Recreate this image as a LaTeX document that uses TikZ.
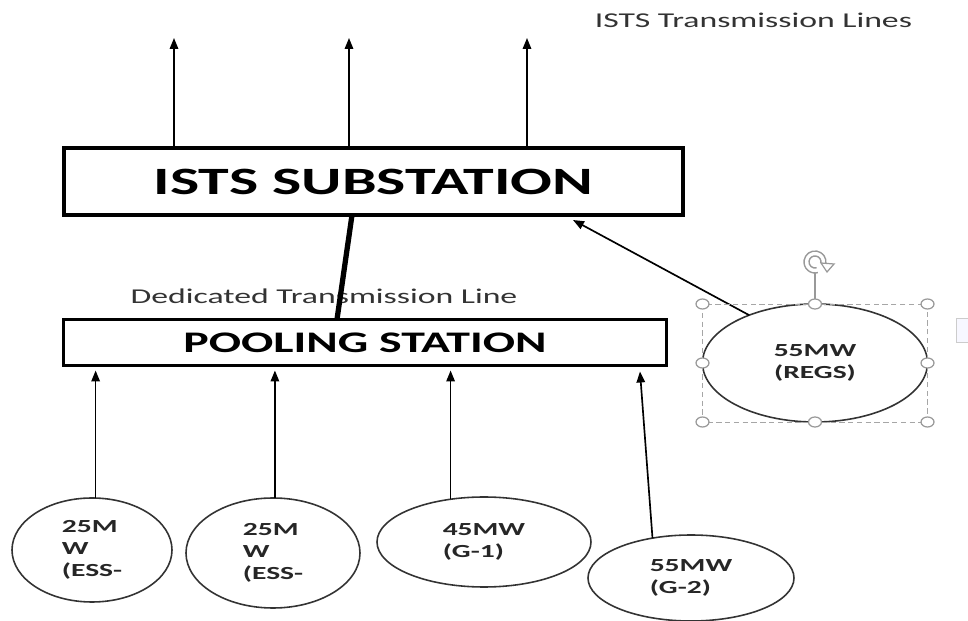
\documentclass[tikz,border=0pt]{standalone}
\usepackage{fontspec}
\setmainfont{Carlito}
\usetikzlibrary{positioning, arrows.meta, shapes.geometric}
\newcommand{\stretched}[1]{\scalebox{1.6}[1]{#1}}

\begin{document}
\begin{tikzpicture}[
  every node/.append style={inner sep=2pt, outer sep=0pt},
  stn/.style={draw, line width=2.4pt, minimum width=12.38cm, minimum height=1.34cm, font=\fontsize{22}{26}\selectfont\bfseries},
  pl/.style={draw, line width=1.9pt, minimum width=12.06cm, minimum height=0.92cm, font=\fontsize{17}{20}\selectfont\bfseries},
  gen/.style={draw=black!80, ellipse, line width=0.9pt, inner sep=0pt, font=\fontsize{10.5}{12.5}\selectfont\bfseries, text=black!85},
  lbl/.style={font=\fontsize{12}{14}\selectfont, text=black!80},
  arr/.style={-{Triangle[length=0.22cm, width=0.17cm]}, line width=0.95pt},
  trunk/.style={line width=3pt},
  sel/.style={draw=gray!70, densely dashed, line width=0.5pt},
  handle/.style={draw=gray!80, fill=white, line width=0.7pt},
]
\useasboundingbox (0,0) rectangle (19.36,-12.42);

%% --- stations and labels ---
\node[stn] (sub)  at (7.47,-3.63) {\stretched{ISTS SUBSTATION}};
\node[pl]  (pool) at (7.30,-6.85) {\stretched{POOLING STATION}};
\node[lbl] (isl)  at (15.07,-0.40) {\stretched{ISTS Transmission Lines}};
\node[lbl] (ded)  at (6.48,-5.92) {\stretched{Dedicated Transmission Line}};

%% --- outgoing ISTS lines ---
\foreach \x [count=\i] in {3.48, 6.98, 10.54}
  \coordinate (up\i) at (\x,-0.76);
\foreach \i in {1,2,3}
  \draw[arr] (up\i |- sub.north) -- (up\i);

%% --- dedicated line ---
\draw[trunk] ([xshift=-0.43cm]sub.south) -- ([xshift=-0.56cm]pool.north);

%% --- generating units ---
\node[gen, minimum width=3.2cm,  minimum height=2.08cm] (ess1) at (1.84,-11.00)
  {\stretched{\begin{tabular}{@{}l@{}}25M\\W\\(ESS-\end{tabular}}};
\node[gen, minimum width=3.48cm, minimum height=2.2cm]  (ess2) at (5.46,-11.06)
  {\stretched{\begin{tabular}{@{}l@{}}25M\\W\\(ESS-\end{tabular}}};
\node[gen, minimum width=4.28cm, minimum height=1.8cm]  (g1)   at (9.68,-10.84)
  {\stretched{\begin{tabular}{@{}l@{}}45MW\\(G-1)\end{tabular}}};
\node[gen, minimum width=4.12cm, minimum height=1.72cm] (g2)   at (13.82,-11.56)
  {\stretched{\begin{tabular}{@{}l@{}}55MW\\(G-2)\end{tabular}}};
\node[gen, minimum width=4.5cm,  minimum height=2.36cm] (regs) at (16.30,-7.26)
  {\stretched{\begin{tabular}{@{}c@{}}55MW\\(REGS)\end{tabular}}};

\draw[arr, shorten >=0.1cm] (ess1.86)  -- (ess1.86 |- pool.south);
\draw[arr, shorten >=0.1cm] (ess2.88)  -- (ess2.88 |- pool.south);
\draw[arr, shorten >=0.1cm] (g1.128)   -- (g1.128 |- pool.south);
\draw[arr] (g2.134) -- ([xshift=5.5cm, yshift=-0.12cm]pool.south);
\draw[arr] (regs.144) -- ([xshift=3.99cm, yshift=-0.1cm]sub.south);

%% --- selection frame round REGS ---
\draw[sel] (regs.west |- regs.north) rectangle (regs.east |- regs.south);
\coordinate (rot) at ([yshift=0.84cm]regs.north);
\draw[draw=gray!80, line width=0.7pt] (regs.north) -- ([yshift=0.62cm]regs.north);
\draw[draw=gray!80, line width=0.8pt] (rot) ++(-10:0.22) arc (-10:285:0.22);
\draw[draw=gray!80, line width=0.8pt] (rot) ++(-10:0.12) arc (-10:285:0.12);
\draw[draw=gray!80, fill=white, line width=0.7pt] ([xshift=0.12cm,yshift=-0.02cm]rot) -- ++(0.26,-0.02) -- ++(-0.14,-0.16) -- cycle;
\foreach \hx/\hy in {west/north, center/north, east/north, west/center, east/center, west/south, center/south, east/south}
  \draw[handle] (regs.\hx |- regs.\hy) ellipse (0.13cm and 0.1cm);
\draw[draw=gray!40, fill=blue!3] (19.12,-6.36) rectangle (19.6,-6.84);

\end{tikzpicture}
\end{document}
